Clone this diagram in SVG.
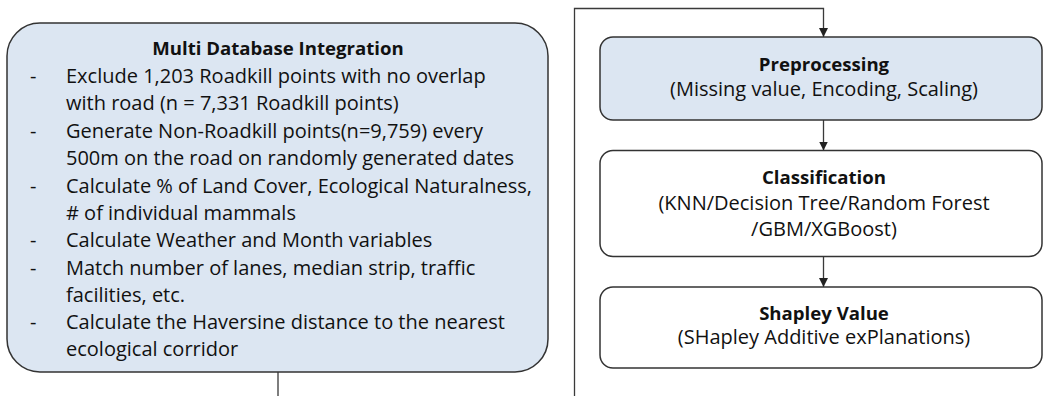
<svg xmlns="http://www.w3.org/2000/svg" width="1044" height="396" viewBox="0 0 1044 396">
  <defs>
    <marker id="arrow" viewBox="0 0 10 10" refX="10" refY="5" markerWidth="9" markerHeight="9" markerUnits="userSpaceOnUse" orient="auto">
      <path d="M0,0 L10,5 L0,10 z" fill="#222"/>
    </marker>
    <style>
      .box { stroke: #333; stroke-width: 1.5; }
      .blue { fill: #dce6f2; }
      .white { fill: #ffffff; }
      text { font-family: "Open Sans", "Liberation Sans", sans-serif; fill: #111; }
      .title { font-size: 18.6px; font-weight: bold; text-anchor: middle; }
      .body { font-size: 20px; }
      .mid { font-size: 20px; text-anchor: middle; }
      .wire { fill: none; stroke: #3a3a3a; stroke-width: 1.3; }
    </style>
  </defs>

  <rect width="1044" height="396" fill="#ffffff"/>

  <!-- connectors -->
  <g id="connectors">
    <path class="wire" d="M278,372 V402 H574.5 V8.5 H823.5 V37" marker-end="url(#arrow)"/>
    <path class="wire" d="M823.5,120 V150.5" marker-end="url(#arrow)"/>
    <path class="wire" d="M823.5,256.5 V287" marker-end="url(#arrow)"/>
  </g>

  <!-- data integration step -->
  <g id="integration">
    <rect class="box blue" x="7" y="23" width="541" height="349" rx="33" ry="33"/>
    <text class="title" x="278" y="55">Multi Database Integration</text>
    <g class="body">
      <text x="30" y="82.5">-</text>
      <text x="66" y="82.5">Exclude 1,203 Roadkill points with no overlap</text>
      <text x="66" y="110">with road (n = 7,331 Roadkill points)</text>
      <text x="30" y="137.5">-</text>
      <text x="66" y="137.5">Generate Non-Roadkill points(n=9,759) every</text>
      <text x="66" y="165">500m on the road on randomly generated dates</text>
      <text x="30" y="192.5">-</text>
      <text x="66" y="192.5">Calculate % of Land Cover, Ecological Naturalness,</text>
      <text x="66" y="220"># of individual mammals</text>
      <text x="30" y="247">-</text>
      <text x="66" y="247">Calculate Weather and Month variables</text>
      <text x="30" y="274.5">-</text>
      <text x="66" y="274.5">Match number of lanes, median strip, traffic</text>
      <text x="66" y="302">facilities, etc.</text>
      <text x="30" y="329">-</text>
      <text x="66" y="329">Calculate the Haversine distance to the nearest</text>
      <text x="66" y="356">ecological corridor</text>
    </g>
  </g>

  <!-- preprocessing step -->
  <g id="preprocessing">
    <rect class="box blue" x="600" y="37" width="442" height="83" rx="13" ry="13"/>
    <text class="title" x="824" y="71">Preprocessing</text>
    <text class="mid" x="824" y="95.5">(Missing value, Encoding, Scaling)</text>
  </g>

  <!-- classification step -->
  <g id="classification">
    <rect class="box white" x="600" y="150.5" width="442" height="106" rx="13" ry="13"/>
    <text class="title" x="824" y="184">Classification</text>
    <text class="mid" x="824" y="210">(KNN/Decision Tree/Random Forest</text>
    <text class="mid" x="824" y="236">/GBM/XGBoost)</text>
  </g>

  <!-- explanation step -->
  <g id="shapley">
    <rect class="box white" x="600" y="287" width="442" height="81" rx="13" ry="13"/>
    <text class="title" x="824" y="319.5">Shapley Value</text>
    <text class="mid" x="824" y="344">(SHapley Additive exPlanations)</text>
  </g>
</svg>
